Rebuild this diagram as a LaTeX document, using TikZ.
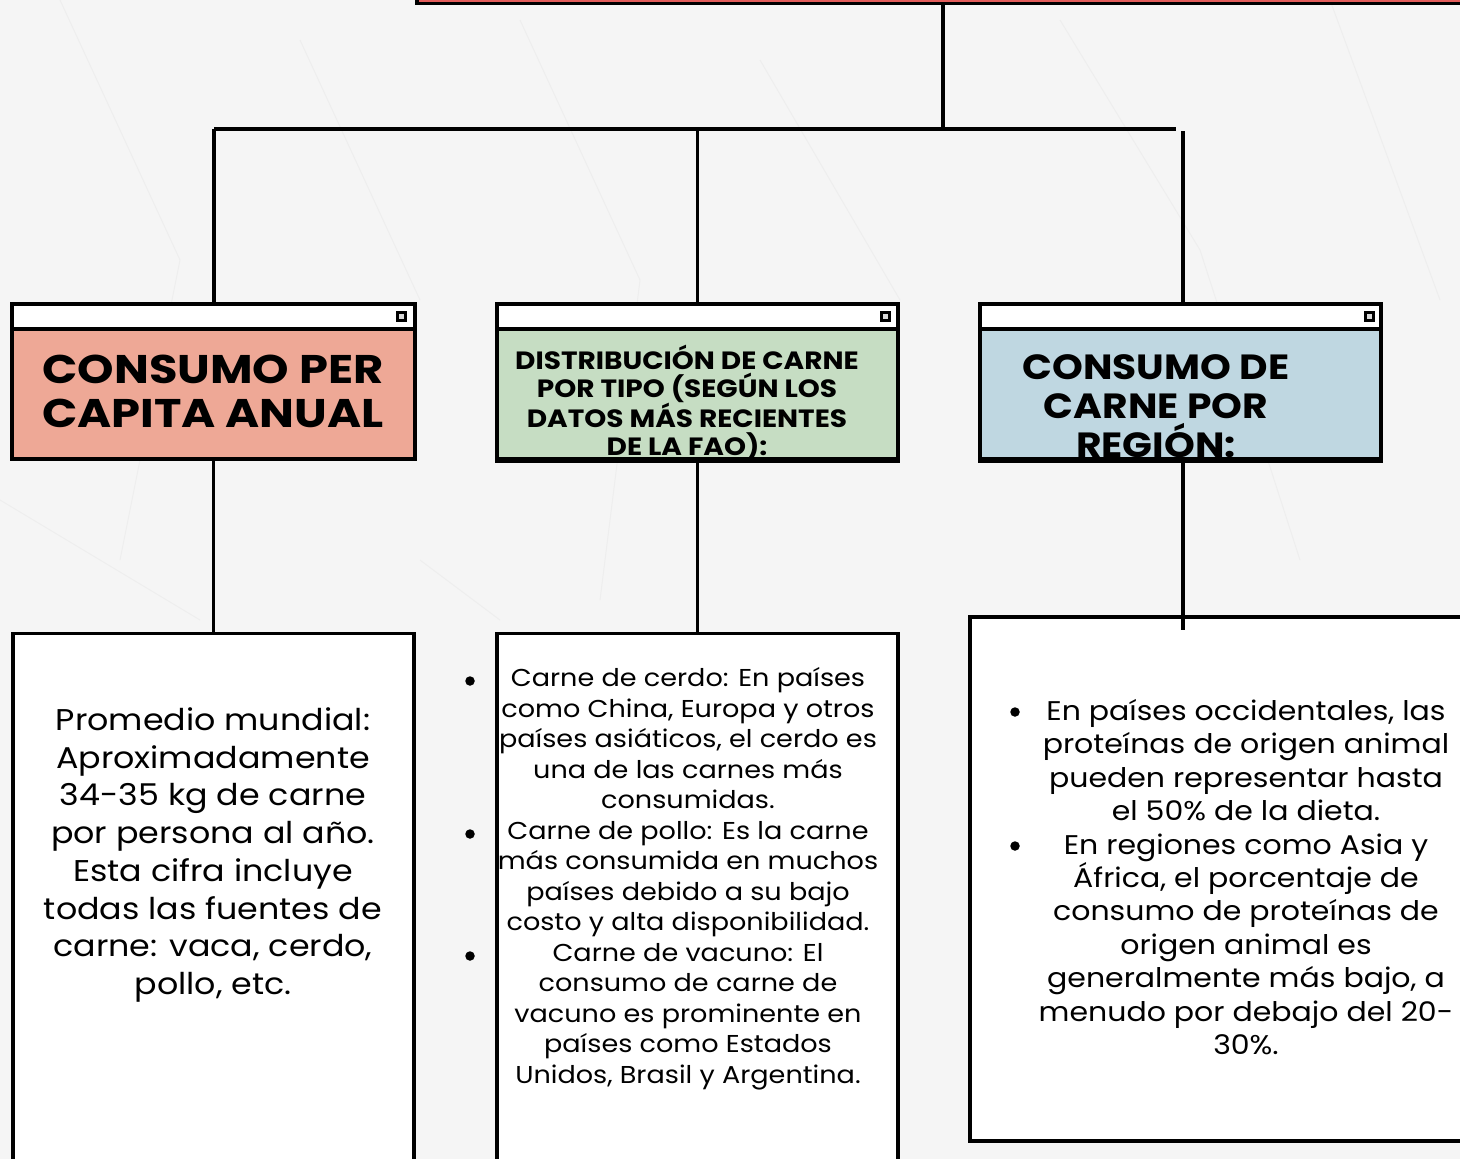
\documentclass[tikz,border=0pt]{standalone}
\usepackage{fontspec}
\setmainfont{Poppins}
\newfontfamily\widefont[FakeStretch=1.11]{Poppins}
\newfontfamily\wideheadA[FakeStretch=1.16]{Poppins}
\newfontfamily\wideheadB[FakeStretch=1.12]{Poppins}
\definecolor{paper}{HTML}{F5F5F5}
\definecolor{crease}{HTML}{EEEEEE}
\definecolor{topred}{HTML}{E35D5B}
\definecolor{salmon}{HTML}{EEA896}
\definecolor{sage}{HTML}{C6DDC3}
\definecolor{skyb}{HTML}{BFD7E1}
\tikzset{
  conn/.style={line width=3.2pt, draw=black},
  winbar/.style={draw=black, line width=3.6pt, fill=white, minimum height=25pt, inner sep=0pt},
  headbox/.style={draw=black, line width=3.6pt, minimum height=130pt, inner sep=0pt},
  card/.style={draw=black, line width=3.6pt, fill=white, inner sep=0pt},
  icon/.style={draw=black, line width=3pt, fill=white!85!black, minimum size=8pt, inner sep=0pt},
  dot/.style={circle, fill=black, minimum size=9.5pt, inner sep=0pt},
  headtxt/.style={align=center, inner sep=0pt},
  bodytxt/.style={align=center, inner sep=0pt},
}
\begin{document}
\begin{tikzpicture}[x=1pt,y=-1pt]
\fill[paper] (0,0) rectangle (1460,1159);
\useasboundingbox (0,0) rectangle (1460,1159);
% faint paper creases
\draw[crease, line width=1pt] (60,0) -- (180,260) -- (120,560) (300,40) -- (420,300) (520,20) -- (640,280) -- (600,600)
  (760,60) -- (900,300) (1060,20) -- (1200,250) -- (1300,560) (1330,0) -- (1440,300) (0,500) -- (200,620) (420,560) -- (500,620);

% top box (mostly off page)
\node[draw=black, line width=3.6pt, fill=topred, minimum width=1066pt, minimum height=47pt, inner sep=0pt] (top) at (950,-20) {};

% header windows
\node[headbox, fill=salmon, minimum width=403pt] (h1) at (213.5,394) {};
\node[winbar, minimum width=403pt] (t1) at (213.5,316.5) {};
\node[icon] (i1) at (401.5,316.5) {};
\node[headbox, fill=sage, minimum width=401pt] (h2) at (697.5,394) {};
\node[winbar, minimum width=401pt] (t2) at (697.5,316.5) {};
\node[icon] (i2) at (885,316.5) {};
\node[headbox, fill=skyb, minimum width=401pt] (h3) at (1180.5,394) {};
\node[winbar, minimum width=401pt] (t3) at (1180.5,316.5) {};
\node[icon] (i3) at (1369,316.5) {};

% header texts
\node[headtxt, font=\wideheadA\bfseries\fontsize{40}{44}\selectfont] (ht1) at (213,391) {CONSUMO PER\\CAPITA ANUAL};
\node[headtxt, font=\wideheadB\bfseries\fontsize{25}{28}\selectfont] (ht2) at (687,403) {DISTRIBUCIÓN DE CARNE\\POR TIPO (SEGÚN LOS\\DATOS MÁS RECIENTES\\DE LA FAO):};
\node[headtxt, font=\wideheadB\bfseries\fontsize{35}{39}\selectfont] (ht3) at (1156,406) {CONSUMO DE\\CARNE POR\\REGIÓN:};
\draw[line width=3.6pt] (h3.south west) -- (h3.south east);
\draw[line width=3.6pt] (h2.south west) -- (h2.south east);

% bottom cards
\node[card, minimum width=401pt, minimum height=545pt] (b1) at (213.5,906) {};
\node[card, minimum width=401pt, minimum height=545pt] (b2) at (697.5,906) {};
\node[card, minimum width=520pt, minimum height=524pt] (b3) at (1230,879) {};

% connectors
\coordinate (j) at (943,129);
\coordinate (hl) at (214,129);
\coordinate (hr) at (1176,129);
\coordinate (r3) at (1183,131);
\coordinate (r3b) at (1183,630);
\draw[conn] (top.south -| j) -- (j);
\draw[conn] (hl) -- (hr);
\draw[conn] (hl) -- (t1.north -| hl);
\draw[conn] (t2.north |- j) -- (t2.north);
\draw[conn] (r3) -- (t3.north -| r3);
\draw[conn] (h1.south) -- (b1.north);
\draw[conn] (h2.south) -- (b2.north);
\draw[conn] (h3.south -| r3b) -- (r3b);

% body texts
\node[bodytxt, font=\widefont\fontsize{30}{37.7}\selectfont] (bt1) at (213,855) {Promedio mundial:\\Aproximadamente\\34-35 kg de carne\\por persona al año.\\Esta cifra incluye\\todas las fuentes de\\carne: vaca, cerdo,\\pollo, etc.};

\node[bodytxt, font=\widefont\fontsize{24.4}{30.5}\selectfont] (bt2) at (688,878.5) {Carne de cerdo: En países\\como China, Europa y otros\\países asiáticos, el cerdo es\\una de las carnes más\\consumidas.\\Carne de pollo: Es la carne\\más consumida en muchos\\países debido a su bajo\\costo y alta disponibilidad.\\Carne de vacuno: El\\consumo de carne de\\vacuno es prominente en\\países como Estados\\Unidos, Brasil y Argentina.};
\node[dot] (d1) at (470,681) {};
\node[dot] (d2) at (470,834) {};
\node[dot] (d3) at (470,956) {};

\node[bodytxt, font=\widefont\fontsize{27}{33.4}\selectfont] (bt3) at (1246,877) {En países occidentales, las\\proteínas de origen animal\\pueden representar hasta\\el 50\% de la dieta.\\En regiones como Asia y\\África, el porcentaje de\\consumo de proteínas de\\origen animal es\\generalmente más bajo, a\\menudo por debajo del 20-\\30\%.};
\node[dot] (d4) at (1015,712) {};
\node[dot] (d5) at (1015,846) {};
\end{tikzpicture}
\end{document}
